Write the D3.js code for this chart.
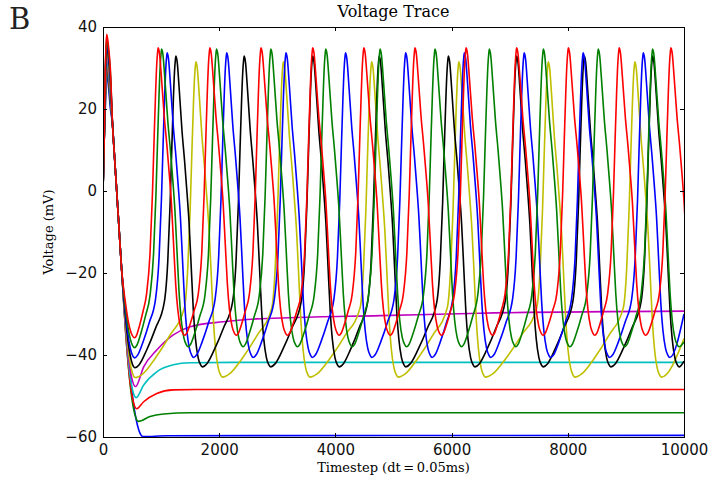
<!DOCTYPE html>
<html>
<head>
<meta charset="utf-8">
<script src="https://cdn.jsdelivr.net/npm/d3@7/dist/d3.min.js"></script>
<style>
    body { margin: 0; background: #fff; }
    .axis path, .axis line { stroke: #000; shape-rendering: crispEdges; }
    .axis text { font-family: "DejaVu Sans", sans-serif; font-size: 15px; fill: #111; }
    .trace { fill: none; stroke-width: 1.6; stroke-linejoin: round; }
</style>
</head>
<body>
<svg id="chart" width="710" height="482"></svg>
<script>
// ticks
var xTicks = [0, 2000, 4000, 6000, 8000, 10000];
var yTicks = [-60, -40, -20, 0, 20, 40];

// the ten neurons, in plotting order (later ones on top)
var traceColors = ["#0000ff", "#008000", "#ff0000", "#00bfbf", "#bf00bf",
                   "#bfbf00", "#000000", "#0000ff", "#008000", "#ff0000"];
// first spike at the start of the run (mV), then first trough
var startPeaks   = [28.4, 29.8, 31.0, 32.0, 33.5, 34.6, 35.5, 36.3, 37.3, 38.2];
var firstTroughT = [690, 610, 580, 570, 560, 555, 550, 545, 545, 545];
var firstTroughV = [-59.9, -56.2, -53.1, -50.4, -47.7, -45.5, -43.1, -40.7, -38.2, -35.8];

// silent neurons: recovery after the first spike [timestep, mV]
var blue2Rest   = [[1100, -59.7], [10000, -59.6]];
var green2Rest  = [[810, -55.0], [1040, -54.4], [1500, -54.1], [10000, -54.1]];
var red2Rest    = [[700, -51.4], [925, -49.4], [1210, -48.5], [1600, -48.4], [10000, -48.4]];
var cyanRest    = [[700, -47.3], [925, -44.1], [1210, -42.4], [1500, -41.9], [2500, -41.8], [10000, -41.8]];
var magentaRest = [[700, -42.9], [925, -38.8], [1210, -35.1], [1500, -33.1], [2070, -31.9],
                   [2645, -31.2], [3220, -30.9], [4770, -30.4], [6490, -29.8], [10000, -29.3]];

// spiking neurons: peak times (timestep)
var yellowPeaks = [1600, 3105, 4625, 6125, 7665, 9155];
var blackPeaks  = [1255, 2430, 3610, 4755, 5945, 7120, 8285, 9460];
var bluePeaks   = [1105, 2130, 3150, 4175, 5210, 6220, 7250, 8265, 9300];
var greenPeaks  = [1010, 1955, 2890, 3835, 4770, 5715, 6650, 7580, 8525, 9460];
var redPeaks    = [950, 1840, 2720, 3610, 4490, 5370, 6250, 7120, 8010, 8885, 9775];
//                 yellow, black, blue, green, red
var spikePeakV   = [31.5, 32.9, 33.7, 34.6, 34.9];
var spikeTroughV = [-45.4, -42.9, -40.6, -38.0, -35.2];
var spikeEndV    = [-36.0, -41.5, -30.0, -36.8, 0.6];

var initRise   = [[0, 0], [20, 12]];                          // [timestep, mV]
var initTop    = [[40, -8], [55, -2], [95, -3], [125, -8]];   // mV relative to first peak
var initFall   = [[165, 16], [200, 8], [236, 0], [280, -10], [320, -19]];
var lowFall    = [[0.3, 0.5], [0.55, 0.2], [0.8, 0.04]];      // to first trough
var rampShape  = [[0.15, 0.05], [0.4, 0.27], [0.7, 0.6]];     // trough -> upstroke
var upShape    = [[-200, 60], [-140, 50], [-100, 36], [-70, 22], [-45, 11], [-25, 4], [-10, 1]]; // mV below peak
var fallShape  = [[0.05, 0.98], [0.12, 0.9], [0.23, 0.76], [0.33, 0.66], [0.42, 0.56], [0.5, 0.46],
                  [0.58, 0.32], [0.66, 0.18], [0.74, 0.09], [0.84, 0.03], [0.93, 0.007], [1, 0]];
var fallSteps = 455;
var firstPeakT = 65;

var restLists  = [blue2Rest, green2Rest, red2Rest, cyanRest, magentaRest];
var peakLists  = [yellowPeaks, blackPeaks, bluePeaks, greenPeaks, redPeaks];

var svg = d3.select("#chart");
var margin = {left: 103, right: 26, top: 27, bottom: 45};
var width = 710 - margin.left - margin.right;
var height = 482 - margin.top - margin.bottom;

var x = d3.scaleLinear().domain([0, 10000]).range([0, width]);
var y = d3.scaleLinear().domain([-60, 40]).range([height, 0]);

var g = svg.append("g").attr("transform", "translate(" + margin.left + "," + margin.top + ")");

svg.append("defs").append("clipPath").attr("id", "plotClip")
    .append("rect").attr("width", width).attr("height", height);

// builds the [timestep, mV] list of one neuron
var buildTrace = function(i) {
    var pts = [];
    var p = startPeaks[i];
    initRise.forEach(function(d) { pts.push([d[0], d[1]]); });
    initTop.slice(0, 2).forEach(function(d) { pts.push([d[0], p + d[1]]); });
    pts.push([firstPeakT, p]);
    initTop.slice(2).forEach(function(d) { pts.push([d[0], p + d[1]]); });
    initFall.forEach(function(d) { pts.push([d[0], d[1]]); });

    var a = initFall[initFall.length - 1];
    var tT = firstTroughT[i], vT = firstTroughV[i];
    lowFall.forEach(function(f) {
        pts.push([a[0] + f[0] * (tT - a[0]), vT + f[1] * (a[1] - vT)]);
    });
    pts.push([tT, vT]);

    if (i < 5) {
        restLists[i].forEach(function(d) { pts.push(d); });
        return pts;
    }

    var k = i - 5;
    var vp = spikePeakV[k], vt = spikeTroughV[k];
    var prevT = tT, prevV = vT;
    peakLists[k].forEach(function(tp) {
        var tu = tp + upShape[0][0], vu = vp - upShape[0][1];
        rampShape.forEach(function(f) {
            pts.push([prevT + f[0] * (tu - prevT), prevV + f[1] * (vu - prevV)]);
        });
        upShape.forEach(function(d) { pts.push([tp + d[0], vp - d[1]]); });
        pts.push([tp, vp]);
        fallShape.forEach(function(f) {
            pts.push([tp + f[0] * fallSteps, vt + f[1] * (vp - vt)]);
        });
        prevT = tp + fallSteps;
        prevV = vt;
    });
    if (prevT < 10000) {
        pts.push([10000, spikeEndV[k]]);
    }
    return pts;
};

var line = d3.line()
    .x(function(d) { return x(d[0]); })
    .y(function(d) { return y(d[1]); })
    .curve(d3.curveMonotoneX);

var traces = g.append("g").attr("clip-path", "url(#plotClip)");
for (var i = 0; i < traceColors.length; i++) {
    traces.append("path")
        .attr("class", "trace")
        .attr("d", line(buildTrace(i)))
        .attr("stroke", traceColors[i]);
}

// axes, ticks pointing inward on all four sides
var fmt = d3.format("d");
g.append("g").attr("class", "axis")
    .attr("transform", "translate(0," + height + ")")
    .call(d3.axisBottom(x).tickValues(xTicks).tickFormat(fmt).tickSizeInner(-4).tickSizeOuter(0).tickPadding(7));
g.append("g").attr("class", "axis")
    .call(d3.axisTop(x).tickValues(xTicks).tickSizeInner(-4).tickSizeOuter(0).tickFormat(""));
g.append("g").attr("class", "axis")
    .call(d3.axisLeft(y).tickValues(yTicks).tickFormat(d3.format("d")).tickSizeInner(-4).tickSizeOuter(0).tickPadding(6));
g.append("g").attr("class", "axis")
    .attr("transform", "translate(" + width + ",0)")
    .call(d3.axisRight(y).tickValues(yTicks).tickSizeInner(-4).tickSizeOuter(0).tickFormat(""));

// labels
svg.append("text")
    .attr("x", margin.left + width / 2).attr("y", 17)
    .attr("text-anchor", "middle")
    .style("font-family", "'DejaVu Serif', serif").style("font-size", "16px")
    .text("Voltage Trace");

svg.append("text")
    .attr("x", margin.left + width / 2).attr("y", 472)
    .attr("text-anchor", "middle")
    .style("font-family", "'DejaVu Serif', serif").style("font-size", "13px")
    .text("Timestep (dt\u2009=\u20090.05ms)");

svg.append("text")
    .attr("transform", "translate(53," + (margin.top + height / 2) + ") rotate(-90)")
    .attr("text-anchor", "middle")
    .style("font-family", "'DejaVu Serif', serif").style("font-size", "13px")
    .text("Voltage (mV)");

svg.append("text")
    .attr("x", 9).attr("y", 29)
    .style("font-family", "'DejaVu Serif', serif").style("font-size", "29px")
    .style("fill", "#222")
    .text("B");
</script>
</body>
</html>
